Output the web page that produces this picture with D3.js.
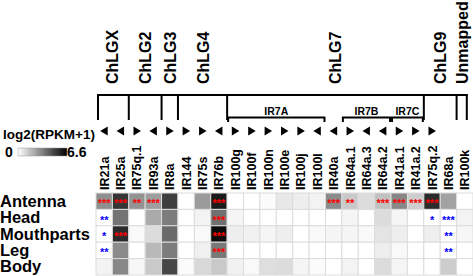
<!DOCTYPE html>
<html lang="en">
<head>
<meta charset="UTF-8">
<title>IR expression heatmap</title>
<script src="https://cdn.jsdelivr.net/npm/d3@7/dist/d3.min.js"></script>
<style>
    body{margin:0;background:#fff;}
    text{font-family:Arial,"Liberation Sans",sans-serif;font-weight:bold;}
</style>
</head>
<body>
<script>
    // genes (columns) and tissues (rows)
    var genes=["IR21a","IR25a","IR75q.1","IR93a","IR8a","IR144","IR75s","IR76b",
        "IR100g","IR100f","IR100n","IR100e","IR100j","IR100l","IR40a","IR64a.1",
        "IR64a.3","IR64a.2","IR41a.1","IR41a.2","IR75q.2","IR68a","IR100k"];
    var tissues=["Antenna","Head","Mouthparts","Leg","Body"];

    // log2(RPKM+1) per tissue, same order as genes
    var antenna   =[2.9,5.2,2.8,2.5,5.0,0,2.6,5.9,0,0,0.1,0.6,0.45,0.3,3.0,1.4,0.9,1.6,3.1,1.3,5.5,2.4,0];
    var head      =[0,3.6,0,2.2,3.4,0,0.3,3.7,0.25,0,0,0,0,0,0,0.25,0,0.9,0.25,0,0,0,0.3];
    var mouthparts=[0,5.5,0.15,0.9,3.85,0,0.15,6.3,0.45,0.35,0.25,0.45,0,0.15,0.25,0.25,0.15,0.7,0.45,0,0.45,0,0.2];
    var leg       =[0,3.0,0,1.8,3.4,0,0.4,3.5,0,0,0,0,0,0,0,0,0,0.45,0.15,0,0,0,0];
    var body      =[0.3,3.1,0.2,1.4,4.8,0.1,1.0,1.4,0.35,0.15,0.85,0.9,0.25,0.1,0,0.3,0,0.9,0.25,0,0,1.3,0];

    // significance stars: >0 red, <0 blue, number = count of stars
    var antennaSig   =[3,3,2,3,0,0,0,3,0,0,0,0,0,0,3,2,0,3,3,3,3,0,0];
    var headSig      =[-2,0,0,0,0,0,0,3,0,0,0,0,0,0,0,0,0,0,0,0,-1,-3,0];
    var mouthpartsSig=[-1,3,0,0,0,0,0,3,0,0,0,0,0,0,0,0,0,0,0,0,0,-2,0];
    var legSig       =[-2,0,0,0,0,0,0,3,0,0,0,0,0,0,0,0,0,0,0,0,0,-2,0];
    var bodySig      =[0,0,0,0,0,0,0,0,0,0,0,0,0,0,0,0,0,0,0,0,0,0,0];

    // strand direction, "" = none
    var strand=["L","L","R","L","R","R","R","L","R","R","R","R","R","L","L","R","L","L","R","R","R","",""];

    var chromosomes=["ChLGX","ChLG2","ChLG3","ChLG4","ChLG7","ChLG9","Unmapped"];
    var chromosomeSizes=[2,2,1,3,12,2,1];

    var clades=["IR7A","IR7B","IR7C"];
    var cladeFirst=["IR100g","IR64a.1","IR41a.1"];
    var cladeLast=["IR100l","IR64a.2","IR41a.2"];

    var maxValue=6.6;

    var values=[antenna,head,mouthparts,leg,body];
    var sigs=[antennaSig,headSig,mouthpartsSig,legSig,bodySig];

    var width=473,height=276;
    var svg=d3.select("body").append("svg").attr("width",width).attr("height",height);

    var x=d3.scaleBand().domain(genes).range([96,473]);
    var y=d3.scaleBand().domain(tissues).range([193,275]);
    var color=d3.scaleLinear().domain([0,maxValue]).range(["#ffffff","#000000"]);
    var bw=x.bandwidth();

    // heatmap cells
    var cells=[];
    tissues.forEach(function(t,i){
        genes.forEach(function(g,j){
            cells.push({t:t,g:g,v:values[i][j],s:sigs[i][j]});
        });
    });
    svg.append("g").selectAll("rect").data(cells).enter().append("rect")
        .attr("x",function(d){return x(d.g);})
        .attr("y",function(d){return y(d.t);})
        .attr("width",bw).attr("height",y.bandwidth())
        .attr("fill",function(d){return color(d.v);})
        .attr("stroke","#dcdcdc").attr("stroke-width",1);

    // stars
    svg.append("g").selectAll("text").data(cells.filter(function(d){return d.s!==0;})).enter().append("text")
        .attr("x",function(d){return x(d.g)+bw/2;})
        .attr("y",function(d){return y(d.t)+y.bandwidth()/2+6;})
        .attr("text-anchor","middle").attr("font-size",11)
        .attr("fill",function(d){return d.s>0?"#ff0000":"#0000ff";})
        .text(function(d){return "*".repeat(Math.abs(d.s));});

    // tissue labels
    svg.append("g").selectAll("text").data(tissues).enter().append("text")
        .attr("x",0).attr("y",function(d){return y(d)+y.bandwidth()/2+5.5;})
        .attr("font-size",16.5).text(function(d){return d;});

    // gene labels
    svg.append("g").selectAll("text").data(genes).enter().append("text")
        .attr("transform",function(d){return "translate("+(x(d)+bw/2+4.5)+",190) rotate(-90)";})
        .attr("font-size",12.5).text(function(d){return d;});

    // strand triangles
    svg.append("g").selectAll("path").data(genes.filter(function(g,i){return strand[i]!=="";})).enter().append("path")
        .attr("transform",function(d){
            var s=strand[genes.indexOf(d)]==="R"?1:-1;
            return "translate("+(x(d)+bw/2)+",131) scale("+s+",1)";
        })
        .attr("d","M-3.5,-4.5L4,0L-3.5,4.5Z").attr("fill","#000");

    // chromosome brackets
    var start=0, bounds=[];
    chromosomes.forEach(function(c,i){
        bounds.push({name:c,from:start,to:start+chromosomeSizes[i]-1});
        start+=chromosomeSizes[i];
    });
    var left=x(genes[0])+2;
    var right=x(genes[genes.length-1])+bw/2+2;
    var br=svg.append("g").attr("stroke","#000").attr("stroke-width",2).attr("fill","none");
    br.append("line").attr("x1",left-1).attr("x2",right+1).attr("y1",95).attr("y2",95);
    var verts=[left].concat(bounds.slice(1).map(function(b){return x(genes[b.from]);})).concat([right]);
    br.selectAll("line.v").data(verts).enter().append("line").attr("class","v")
        .attr("x1",function(d){return d;}).attr("x2",function(d){return d;})
        .attr("y1",95).attr("y2",120);

    var labelShift={ChLG7:10};
    svg.append("g").selectAll("text").data(bounds).enter().append("text")
        .attr("transform",function(b){
            var cx=(x(genes[b.from])+x(genes[b.to])+bw)/2+(labelShift[b.name]||0);
            if(b.name==="Unmapped") cx=x(genes[b.from])+bw/2-3;
            return "translate("+(cx+6)+",84) rotate(-90)";
        })
        .attr("font-size",16).text(function(b){return b.name;});

    // clade brackets
    clades.forEach(function(c,i){
        var x1=x(cladeFirst[i])+1, x2=x(cladeLast[i])+bw-1;
        svg.append("path").attr("d","M"+x1+",122V117.5H"+x2+"V122")
            .attr("stroke","#000").attr("stroke-width",2).attr("fill","none");
        svg.append("text").attr("x",(x1+x2)/2).attr("y",114.5)
            .attr("text-anchor","middle").attr("font-size",10.5).text(c);
    });

    // legend
    svg.append("text").attr("x",3).attr("y",139).attr("font-size",13.5).text("log2(RPKM+1)");
    var grad=svg.append("defs").append("linearGradient").attr("id","lg");
    grad.append("stop").attr("offset","0%").attr("stop-color",color(0));
    grad.append("stop").attr("offset","100%").attr("stop-color",color(maxValue));
    svg.append("rect").attr("x",18).attr("y",148).attr("width",49).attr("height",8)
        .attr("fill","url(#lg)").attr("stroke","#999").attr("stroke-width",0.5);
    svg.append("text").attr("x",5).attr("y",157).attr("font-size",14).text("0");
    svg.append("text").attr("x",67).attr("y",157).attr("font-size",14).text(maxValue);
</script>
</body>
</html>
